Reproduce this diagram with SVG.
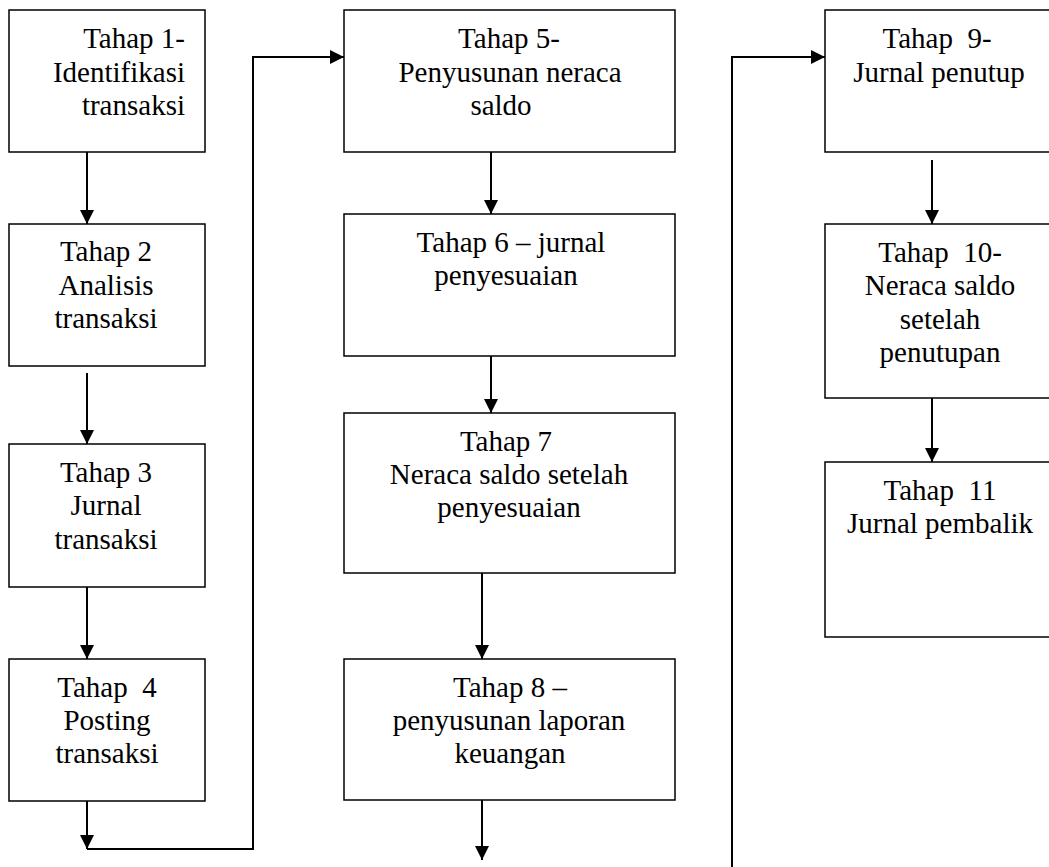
<svg xmlns="http://www.w3.org/2000/svg" width="1049" height="867" viewBox="0 0 1049 867">
<style>
.box{fill:#fff;stroke:#000;stroke-width:1.5}
.t{font-family:"Liberation Serif","Times New Roman",serif;font-size:29px;fill:#000;text-anchor:middle;white-space:pre}
.r{text-anchor:end}
.c{fill:none;stroke:#000;stroke-width:2}
</style>
<defs>
<marker id="ah" viewBox="0 0 14 14" refX="14" refY="7" markerWidth="14" markerHeight="14" markerUnits="userSpaceOnUse" orient="auto">
<path d="M0,0 L14,7 L0,14 z" fill="#000"/>
</marker>
</defs>
<rect width="1049" height="867" fill="#fff"/>
<g id="connectors">
<line class="c" x1="87" y1="152" x2="87" y2="224" marker-end="url(#ah)"/>
<line class="c" x1="87" y1="373" x2="87" y2="444" marker-end="url(#ah)"/>
<line class="c" x1="87" y1="587" x2="87" y2="659" marker-end="url(#ah)"/>
<line class="c" x1="87" y1="801" x2="87" y2="849" marker-end="url(#ah)"/>
<polyline class="c" points="87,849 253,849 253,57 344,57" marker-end="url(#ah)"/>
<line class="c" x1="491" y1="152" x2="491" y2="214" marker-end="url(#ah)"/>
<line class="c" x1="491" y1="356" x2="491" y2="413" marker-end="url(#ah)"/>
<line class="c" x1="482" y1="573" x2="482" y2="659" marker-end="url(#ah)"/>
<line class="c" x1="482" y1="800" x2="482" y2="860" marker-end="url(#ah)"/>
<polyline class="c" points="732,867 732,57 825,57" marker-end="url(#ah)"/>
<line class="c" x1="932" y1="160" x2="932" y2="224" marker-end="url(#ah)"/>
<line class="c" x1="932" y1="398" x2="932" y2="462" marker-end="url(#ah)"/>
</g>
<g id="n1"><rect class="box" x="9" y="10" width="196" height="142"/>
<text class="t r" x="185" y="48">Tahap 1-</text><text class="t r" x="185" y="82">Identifikasi</text><text class="t r" x="185" y="115">transaksi</text></g>
<g id="n2"><rect class="box" x="9" y="224" width="196" height="142"/>
<text class="t" x="106" y="261">Tahap 2</text><text class="t" x="106" y="295">Analisis</text><text class="t" x="106" y="328">transaksi</text></g>
<g id="n3"><rect class="box" x="9" y="444" width="196" height="143"/>
<text class="t" x="106" y="482">Tahap 3</text><text class="t" x="106" y="515">Jurnal</text><text class="t" x="106" y="549">transaksi</text></g>
<g id="n4"><rect class="box" x="9" y="659" width="196" height="142"/>
<text class="t" x="107" y="697">Tahap  4</text><text class="t" x="107" y="730">Posting</text><text class="t" x="107" y="763">transaksi</text></g>
<g id="n5"><rect class="box" x="344" y="10" width="331" height="142"/>
<text class="t" x="509" y="48">Tahap 5-</text><text class="t" x="510" y="82">Penyusunan neraca</text><text class="t" x="501" y="115">saldo</text></g>
<g id="n6"><rect class="box" x="344" y="214" width="331" height="142"/>
<text class="t" x="511" y="252">Tahap 6 – jurnal</text><text class="t" x="506" y="285">penyesuaian</text></g>
<g id="n7"><rect class="box" x="344" y="413" width="331" height="160"/>
<text class="t" x="506" y="451">Tahap 7</text><text class="t" x="509" y="484">Neraca saldo setelah</text><text class="t" x="509" y="517">penyesuaian</text></g>
<g id="n8"><rect class="box" x="344" y="659" width="331" height="141"/>
<text class="t" x="510" y="697">Tahap 8 –</text><text class="t" x="509" y="730">penyusunan laporan</text><text class="t" x="510" y="763">keuangan</text></g>
<g id="n9"><rect class="box" x="825" y="10" width="240" height="142"/>
<text class="t" x="937" y="48">Tahap  9-</text><text class="t" x="939" y="82">Jurnal penutup</text></g>
<g id="n10"><rect class="box" x="825" y="224" width="240" height="174"/>
<text class="t" x="940" y="262">Tahap  10-</text><text class="t" x="940" y="295">Neraca saldo</text><text class="t" x="940" y="329">setelah</text><text class="t" x="940" y="362">penutupan</text></g>
<g id="n11"><rect class="box" x="825" y="462" width="240" height="175"/>
<text class="t" x="940" y="500">Tahap  11</text><text class="t" x="940" y="533">Jurnal pembalik</text></g>
</svg>
